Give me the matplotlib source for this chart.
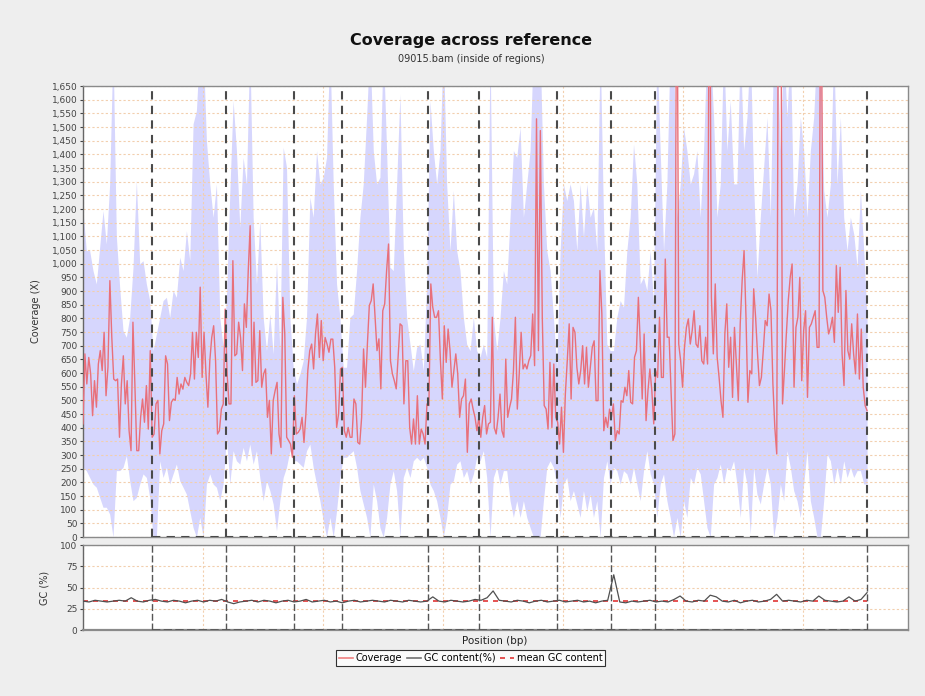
import numpy as np
import matplotlib.pyplot as plt
from matplotlib.lines import Line2D
from matplotlib.ticker import MultipleLocator, FuncFormatter

# mean coverage per window (2400 = off the top)
coverage = [
    414, 670, 560, 657, 597, 444, 572, 475, 633, 682, 609, 749, 517, 621, 938, 730, 578, 572, 578, 365,
    560, 663, 487, 572, 389, 316, 786, 560, 316, 316, 438, 505, 420, 554, 395, 682, 365, 377, 487, 500,
    304, 389, 414, 663, 633, 426, 493, 505, 500, 584, 523, 560, 541, 584, 566, 554, 597, 749, 578, 749,
    657, 914, 584, 749, 597, 475, 645, 730, 773,
    645, 377, 389, 468, 487, 834, 597, 487, 487, 1011, 663, 670, 786, 730, 609, 853, 767, 975, 1139, 554,
    786, 566, 572, 755, 548, 597, 615, 438, 500, 304, 500, 536, 566, 377, 328, 877, 743, 365, 353, 340,
    292, 517, 377, 383, 395, 438, 346, 450, 609, 682, 706, 615, 743, 816, 657, 792, 645, 730, 706, 676,
    724, 724, 621, 401, 450, 615, 621, 389,
    365, 401, 365, 365, 505, 487, 346, 340, 438, 688, 548, 706, 847, 865, 926, 804, 682, 725, 542, 828,
    853, 975, 1072, 645, 597, 572, 542, 658, 780, 773, 487, 645, 645, 401, 340, 432, 340, 517, 340, 395,
    377, 340, 487, 481, 926, 841, 804, 804, 828, 645, 505, 773, 639, 761, 682, 548, 609, 670, 597, 438,
    505, 517, 578, 310, 487, 505, 468, 438, 389,
    438, 365, 438, 481, 377, 414, 420, 804, 401, 377, 438, 523, 389, 365, 651, 438, 475, 505, 609, 804,
    468, 597, 749, 615, 633, 615, 645, 664, 816, 627, 1530, 682, 1487, 804, 481, 468, 395, 639, 401, 633,
    438, 420, 340, 475, 310, 523, 645, 780, 505, 767, 749, 621, 560, 609, 700, 560, 694, 548, 621, 694,
    718, 499, 499, 975, 816, 389, 438,
    401, 468, 438, 487, 353, 389, 377, 499, 493, 548, 517, 609, 493, 487, 658, 682, 877, 706, 505, 743,
    426, 536, 615, 536, 414, 609, 584, 804, 584, 584, 1017, 731, 731, 536, 353, 377, 2400, 706, 645, 548,
    694, 767, 798, 706, 755, 828, 706, 694, 773, 645, 633, 731, 633, 2400, 877, 670, 926, 658, 584, 499,
    438, 743, 853, 621, 731, 511, 767, 633,
    499, 780, 938, 1048, 804, 493, 609, 597, 908, 804, 670, 554, 584, 682, 792, 773, 889, 828, 560, 401,
    304, 2400, 2400, 487, 609, 743, 865, 950, 999, 548, 767, 804, 950, 572, 755, 828, 511, 767, 780, 804,
    828, 694, 694, 2400, 902, 877, 804, 743, 767, 804, 712, 993, 822, 987, 670, 554, 902, 682, 651, 780,
    670, 597, 816, 578, 761, 548, 481, 462,
]

# coverage +/- std band
band_high = [
    1194, 1048, 1048, 975, 926, 1060, 1194, 1072, 1292, 1800, 1100, 914, 755, 731, 804, 987, 1304, 999, 1011, 926,
    865, 682, 743, 804, 865, 877, 804, 902, 877, 1024, 975, 1121, 1011, 1512, 1560, 1800, 1800, 1450, 1292, 1170,
    1292, 804, 694, 877, 1255, 1597, 1414, 1133, 1389, 1292, 1800, 1170, 926, 1158, 804, 682, 816, 670, 1011, 682,
    1426, 1353, 804, 621, 560, 597, 645, 804, 1243, 1170, 1414, 1292, 1316, 1389, 1800, 1292, 926, 804, 621,
    621, 804, 816, 975, 1170, 1292, 1536, 1800, 1414, 1292, 1316, 1800, 1414, 987, 975, 1292, 1621, 1048, 804, 706,
    609, 694, 706, 609, 926, 1597, 1414, 1292, 1414, 1800, 1292, 1048, 1268, 1048, 975, 804, 706, 682, 804,
    682, 658, 706, 658, 1800, 804, 682, 804, 975, 926, 1170, 1414, 1389, 1499, 1170, 1292, 1414, 1800, 1800, 1800,
    1292, 1048, 975, 804, 621, 1048, 1292, 1231, 1292, 1231, 1048, 1292, 1097, 1292, 1170, 1206, 1048, 1800, 1170,
    706, 682, 682, 804, 865, 841, 1048, 1170, 1438, 1292, 926, 950, 902, 1048, 853, 1800, 1414, 1048, 1292, 1800,
    1800, 1170, 1292, 1499, 1414, 1292, 1329, 1414, 1170, 1414, 1800, 1800, 1536, 1170, 1292, 1800, 1414, 1597, 1292,
    1292, 1800, 1414, 1536, 1800, 1292, 950, 1170, 1353, 1536, 1170, 1800, 1800, 1414, 1800, 1536, 1800, 1170, 1292, 1536,
    1414, 1170, 1414, 1536, 1800, 1800, 1268, 1170, 1292, 1800, 1292, 1536, 1170, 1048, 1170, 1109, 987, 1268, 1048, 804,
]
band_low = [
    255, 243, 218, 194, 182, 145, 109, 109, 84, 0, 243, 243, 255, 298, 206, 133, 145, 194, 231, 218,
    145, 0, 0, 279, 218, 255, 194, 231, 267, 206, 182, 157, 96, 35, 0, 72, 0, 194, 231, 194,
    182, 133, 194, 365, 194, 316, 279, 267, 328, 279, 340, 267, 316, 218, 133, 206, 170, 121, 23, 133,
    218, 255, 316, 279, 279, 267, 255, 316, 340, 255, 194, 133, 60, 0, 72, 0, 96, 218, 292,
    292, 304, 316, 255, 170, 121, 72, 0, 194, 133, 35, 0, 72, 194, 243, 170, 0, 218, 255, 218,
    279, 292, 279, 292, 255, 194, 170, 133, 72, 0, 72, 194, 206, 267, 279, 218, 243, 194, 231,
    292, 279, 316, 218, 0, 218, 255, 194, 243, 243, 133, 72, 133, 72, 133, 72, 35, 0, 0, 0,
    133, 255, 279, 255, 194, 72, 194, 218, 133, 170, 121, 72, 170, 96, 157, 72, 133, 0, 218,
    279, 194, 255, 243, 194, 243, 231, 194, 255, 194, 133, 243, 316, 231, 194, 72, 194, 231, 133, 72,
    0, 72, 0, 133, 72, 218, 194, 255, 231, 133, 35, 0, 194, 218, 267, 194, 255, 243, 279,
    194, 72, 255, 194, 11, 255, 157, 121, 194, 255, 194, 0, 72, 194, 133, 316, 255, 170, 133, 72,
    194, 316, 133, 72, 0, 0, 133, 304, 279, 194, 255, 194, 279, 218, 255, 218, 243, 243, 194, 194,
]

gc_content = [
    34, 33, 35, 34, 33, 34, 35, 34, 38, 34, 33, 35, 36, 34, 33, 35, 34, 32, 34, 35,
    33, 35, 34, 36, 33, 31, 33, 34, 35, 33, 35, 34, 32, 34, 35, 33, 34, 36, 33, 34,
    35, 33, 34, 32, 34, 35, 33, 34, 35, 34, 33, 35, 34, 33, 35, 34, 33, 34, 39, 34,
    33, 35, 34, 33, 34, 36, 35, 38, 46, 35, 34, 33, 35, 34, 32, 34, 35, 33, 34, 35,
    33, 34, 35, 33, 34, 32, 34, 35, 65, 33, 32, 34, 33, 34, 35, 33, 34, 33, 36, 40,
    34, 33, 35, 34, 41, 39, 34, 33, 35, 32, 34, 35, 33, 34, 36, 42, 34, 35, 34, 33,
    35, 34, 40, 35, 34, 33, 34, 39, 34, 36, 44,
]
mean_gc = 34

# region (chromosome) ends, Mb
boundaries = [17.2, 35.75, 52.75, 64.8, 86.3, 99.0, 118.4, 131.9, 143.0, 196.0]
genome_len = 196.0

pos_cov = np.linspace(0, genome_len, len(coverage)) * 1e6
pos_band = np.linspace(0, genome_len, len(band_high)) * 1e6
pos_gc = np.linspace(0, genome_len, len(gc_content)) * 1e6
bnd = np.array(boundaries) * 1e6
xmax = 206.25e6

plt.rcParams['font.family'] = ['DejaVu Sans']
grid_kw = dict(color='#f2cfae', linestyle=(0, (2, 2)), linewidth=0.8)

fig = plt.figure(figsize=(9.25, 6.96), dpi=100, facecolor='#eeeeee')
ax = fig.add_axes([0.0897, 0.2284, 0.892, 0.648])
ax2 = fig.add_axes([0.0897, 0.0948, 0.892, 0.1221])

# coverage panel
ax.fill_between(pos_band, band_low, band_high, color='#d6d6fd', linewidth=0, zorder=1)
ax.plot(pos_cov, coverage, color='#e8707b', linewidth=1.0, zorder=3)
ax.vlines(bnd, 0, 1650, colors='#4a4a4a', linestyles=(0, (4, 3)), linewidth=1.5, zorder=4)
ax.hlines(0, bnd[0], bnd[-1], colors='#4a4a4a', linestyles=(0, (4, 3)), linewidth=1.5, zorder=4)
ax.set_xlim(0, xmax)
ax.set_ylim(0, 1650)
ax.yaxis.set_major_locator(MultipleLocator(50))
ax.yaxis.set_major_formatter(FuncFormatter(lambda v, p: f'{int(v):,}'))
ax.xaxis.set_major_locator(MultipleLocator(30e6))
ax.set_xticklabels([])
ax.tick_params(axis='x', length=0)
ax.tick_params(axis='y', length=2, width=0.8, labelsize=6.5, pad=2, colors='#444444')
ax.set_axisbelow('line')
ax.grid(True, **grid_kw)
ax.set_ylabel('Coverage (X)', fontsize=7, color='#333333', labelpad=8)

# GC panel
ax2.plot(pos_gc, gc_content, color='#505050', linewidth=0.9, zorder=3)
ax2.hlines(mean_gc, 0, genome_len * 1e6, colors='#e03535', linestyles=(0, (3, 3)), linewidth=1.2, zorder=2)
ax2.vlines(bnd, 0, 100, colors='#555555', linestyles=(0, (5, 2)), linewidth=1.0, zorder=4)
ax2.hlines(0, bnd[0], bnd[-1], colors='#555555', linestyles=(0, (5, 2)), linewidth=1.2, zorder=4)
ax2.set_xlim(0, xmax)
ax2.set_ylim(0, 100)
ax2.set_yticks([0, 25, 50, 75, 100])
ax2.xaxis.set_major_locator(MultipleLocator(30e6))
ax2.set_xticklabels([])
ax2.tick_params(axis='x', length=0)
ax2.tick_params(axis='y', length=2, width=0.8, labelsize=6.5, pad=2, colors='#444444')
ax2.set_axisbelow('line')
ax2.grid(True, **grid_kw)
ax2.set_ylabel('GC (%)', fontsize=7, color='#333333', labelpad=8)

for a in (ax, ax2):
    for s in a.spines.values():
        s.set_color('#8a8a8a')
        s.set_linewidth(1.0)
    a.spines['left'].set_color('#666666')
ax2.spines['bottom'].set_linewidth(1.6)

fig.text(0.509, 0.9425, 'Coverage across reference', ha='center', va='center',
         fontsize=11.5, fontweight='bold', color='#111111')
fig.text(0.509, 0.915, '09015.bam (inside of regions)', ha='center', va='center',
         fontsize=7, color='#333333')
fig.text(0.535, 0.079, 'Position (bp)', ha='center', va='center', fontsize=7.5, color='#222222')

handles = [Line2D([], [], color='#f08080', linewidth=1.2),
           Line2D([], [], color='#707070', linewidth=1.2),
           Line2D([], [], color='#e03535', linewidth=1.2, linestyle=(0, (3, 3)))]
leg = fig.legend(handles, ['Coverage', 'GC content(%)', 'mean GC content'],
                 loc='center', bbox_to_anchor=(0.509, 0.0546), ncol=3, fontsize=7,
                 frameon=True, fancybox=False, edgecolor='#000000', facecolor='white',
                 handlelength=1.4, handletextpad=0.3, columnspacing=0.5,
                 borderpad=0.3, borderaxespad=0)
leg.get_frame().set_linewidth(0.8)

fig.savefig('out.png', dpi=100, facecolor=fig.get_facecolor())
